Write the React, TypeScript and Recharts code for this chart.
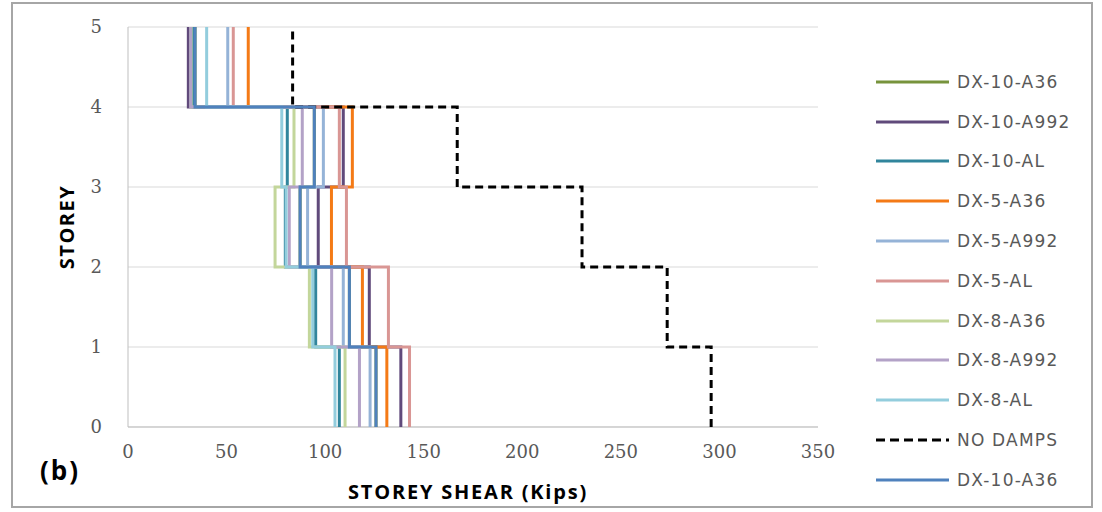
import React from 'react';
import { ScatterChart, Scatter, XAxis, YAxis, CartesianGrid } from 'recharts';

// Storey shear (kips) per storey, storey 1 (ground) to storey 5 (roof)
const storeys = [1, 2, 3, 4, 5];
const dx10A36 = [125.8, 112.3, 87.3, 94.5, 34.0];
const dx10A992 = [138.4, 122.4, 96.5, 109.2, 30.6];
const dx10AL = [107.2, 95.2, 79.8, 80.8, 33.0];
const dx5A36 = [131.3, 118.9, 103.2, 113.8, 61.0];
const dx5A992 = [122.8, 109.2, 91.1, 99.1, 50.6];
const dx5AL = [142.8, 132.1, 110.8, 107.2, 53.4];
const dx8A36 = [110.1, 92.0, 74.6, 84.2, 32.0];
const dx8A992 = [117.4, 103.3, 81.8, 88.4, 31.8];
const dx8AL = [105.0, 93.7, 80.2, 78.0, 39.9];
const noDamps = [295.8, 273.5, 230.3, 167.0, 83.5];

const xTicks = [0, 50, 100, 150, 200, 250, 300, 350];
const yTicks = [0, 1, 2, 3, 4, 5];

type Series = { name: string; values: number[]; color: string; dash?: string };

const series: Series[] = [
  { name: 'DX-10-A36', values: dx10A36, color: '#77933C' },
  { name: 'DX-10-A992', values: dx10A992, color: '#604A7B' },
  { name: 'DX-10-AL', values: dx10AL, color: '#31859C' },
  { name: 'DX-5-A36', values: dx5A36, color: '#F47A16' },
  { name: 'DX-5-A992', values: dx5A992, color: '#95B3D7' },
  { name: 'DX-5-AL', values: dx5AL, color: '#D99694' },
  { name: 'DX-8-A36', values: dx8A36, color: '#C3D69B' },
  { name: 'DX-8-A992', values: dx8A992, color: '#B3A2C7' },
  { name: 'DX-8-AL', values: dx8AL, color: '#93CDDD' },
  { name: 'NO DAMPS', values: noDamps, color: '#000000', dash: '8 5' },
  { name: 'DX-10-A36', values: dx10A36, color: '#4F81BD' },
];

// Each storey's shear is constant over its height: build a stepped path.
function stepPoints(values: number[]) {
  const pts: { x: number; y: number }[] = [];
  values.forEach((v, i) => {
    pts.push({ x: v, y: storeys[i] - 1 });
    pts.push({ x: v, y: storeys[i] });
  });
  return pts;
}

const tickStyle = { fontFamily: '"DejaVu Serif", serif', fontSize: 18, fill: '#595959' };
const titleFont = '"Open Sans", "DejaVu Sans", sans-serif';

const NoShape = () => <g />;

const YTitle = (props: any) => {
  const vb = props.viewBox || { x: 0, y: 0, width: 0, height: 0 };
  const cx = 66;
  const cy = vb.y + vb.height / 2;
  return (
    <text
      x={cx}
      y={cy}
      transform={`rotate(-90 ${cx} ${cy})`}
      textAnchor="middle"
      dominantBaseline="central"
      style={{ fontFamily: titleFont, fontWeight: 700, fontSize: 20, letterSpacing: 1.5, fill: '#000' }}
    >
      STOREY
    </text>
  );
};

const XTitle = (props: any) => {
  const vb = props.viewBox || { x: 0, y: 0, width: 0, height: 0 };
  const cx = vb.x + vb.width / 2 - 5;
  return (
    <text
      x={cx}
      y={491}
      textAnchor="middle"
      dominantBaseline="central"
      style={{ fontFamily: titleFont, fontWeight: 700, fontSize: 20, letterSpacing: 1.8, fill: '#000' }}
    >
      STOREY SHEAR (Kips)
    </text>
  );
};

export default function App() {
  return (
    <div style={{ position: 'absolute', left: 0, top: 0, width: 1102, height: 512, background: '#fff', overflow: 'hidden' }}>
      <div
        style={{
          position: 'absolute',
          left: 11,
          top: 2,
          width: 1082,
          height: 506,
          border: '2px solid #a6a6a6',
          boxSizing: 'border-box',
        }}
      />
      <div style={{ position: 'absolute', left: 0, top: 0 }}>
        <ScatterChart width={1102} height={512} margin={{ top: 27, right: 284, bottom: 55, left: 68 }}>
          <CartesianGrid horizontal vertical={false} stroke="#D9D9D9" strokeWidth={1} />
          <XAxis
            type="number"
            dataKey="x"
            domain={[0, 350]}
            ticks={xTicks}
            interval={0}
            height={30}
            axisLine={{ stroke: '#BFBFBF' }}
            tickLine={false}
            tickMargin={12}
            tick={tickStyle}
            label={<XTitle />}
          />
          <YAxis
            type="number"
            dataKey="y"
            domain={[0, 5]}
            ticks={yTicks}
            interval={0}
            width={60}
            axisLine={{ stroke: '#BFBFBF' }}
            tickLine={false}
            tickMargin={20}
            tick={tickStyle}
            label={<YTitle />}
          />
          {series.map((s, i) => (
            <Scatter
              key={i}
              name={s.name}
              data={stepPoints(s.values)}
              fill={s.color}
              line={{ stroke: s.color, strokeWidth: 3, strokeDasharray: s.dash, strokeLinejoin: 'miter' }}
              shape={NoShape}
              isAnimationActive={false}
            />
          ))}
        </ScatterChart>
      </div>
      {/* legend */}
      <div style={{ position: 'absolute', left: 876, top: 62 }}>
        {series.map((s, i) => (
          <div key={i} style={{ display: 'flex', alignItems: 'center', height: 39.8 }}>
            <svg width={73} height={6} style={{ display: 'block' }}>
              <line x1={0} y1={3} x2={73} y2={3} stroke={s.color} strokeWidth={3} strokeDasharray={s.dash ? '9 5' : undefined} />
            </svg>
            <span
              style={{
                marginLeft: 8,
                fontFamily: '"DejaVu Sans", sans-serif',
                fontSize: 17,
                letterSpacing: 1.2,
                color: '#595959',
                whiteSpace: 'nowrap',
              }}
            >
              {s.name}
            </span>
          </div>
        ))}
      </div>
      <div
        style={{
          position: 'absolute',
          left: 40,
          top: 452,
          fontFamily: titleFont,
          fontWeight: 700,
          fontSize: 26,
          letterSpacing: 2,
          color: '#000',
        }}
      >
        (b)
      </div>
    </div>
  );
}
